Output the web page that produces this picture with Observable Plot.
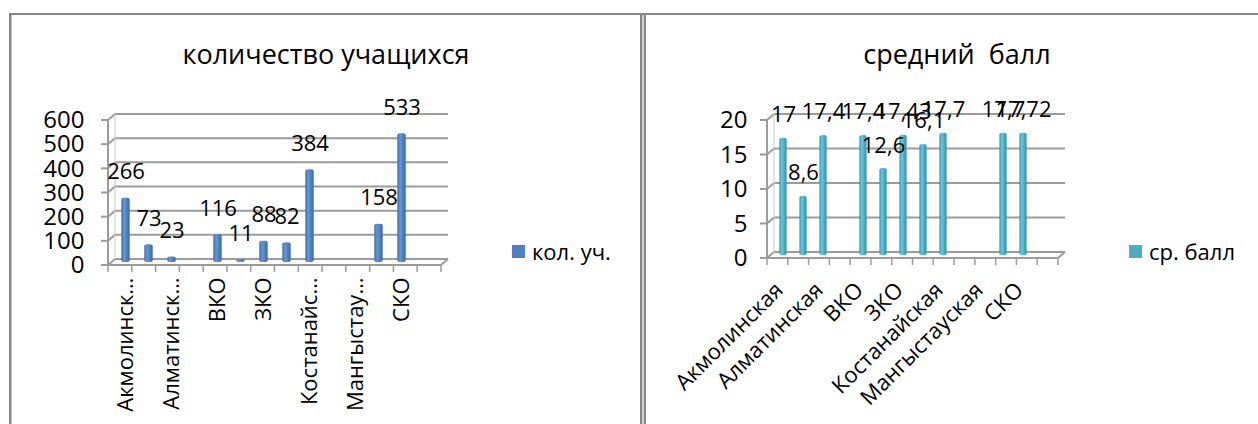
<!DOCTYPE html>
<html><head><meta charset="utf-8">
<script src="https://cdn.jsdelivr.net/npm/d3@7"></script>
<script src="https://cdn.jsdelivr.net/npm/@observablehq/plot@0.6"></script>
<style>
body{margin:0;background:#fff;font-family:"Open Sans","Noto Sans",sans-serif;}
#wrap{position:relative;width:1258px;height:424px;overflow:hidden;background:#fff;}
.abs{position:absolute;}
.title{position:absolute;font-size:27px;color:#000;white-space:pre;transform:translateX(-50%);line-height:1;}
.leg{position:absolute;font-size:22px;color:#000;white-space:pre;display:flex;align-items:center;line-height:1;}
.leg span.sw{display:inline-block;width:13px;height:13px;margin-right:7px;}
svg{position:absolute;top:0;}
</style></head><body><div id="wrap"></div>
<script>
const regions = ["Акмолинская","Актюбинская","Алматинская","Атырауская","ВКО","Жамбылская","ЗКО","Карагандинская","Костанайская","Кызылординская","Мангыстауская","Павлодарская","СКО","ЮКО"];
const students = [266,73,23,null,116,11,88,82,384,null,null,158,533,null];
const scores = [17,8.6,17.4,null,17.4,12.6,17.43,16.1,17.7,null,null,17.7,17.72,null];
const studentTicks = [0,100,200,300,400,500,600];
const scoreTicks = [0,5,10,15,20];
const labelRegions = regions.filter((d,i) => i % 2 === 0);
const titles = ["количество учащихся", "средний  балл"];
const legendNames = ["кол. уч.", "ср. балл"];
const colors = ["#4F81BD", "#4BACC6"];

const wrap = document.getElementById("wrap");

function deco(ticks, n, ddx, ddy) {
  return (index, scales, values, dims) => {
    const {y} = scales;
    const x0 = dims.marginLeft, x1 = dims.width - dims.marginRight;
    const g = d3.create("svg:g").attr("fill", "none").attr("stroke", "#9b9b9b").attr("stroke-width", 2);
    const yb = y(ticks[0]), yt = y(ticks[ticks.length - 1]);
    for (const t of ticks) {
      const yy = y(t);
      g.append("line").attr("x1", x0 - 7).attr("x2", x0).attr("y1", yy).attr("y2", yy);
      g.append("line").attr("x1", x0).attr("x2", x0 + ddx).attr("y1", yy).attr("y2", yy - ddy);
      g.append("line").attr("x1", x0 + ddx).attr("x2", x1 + ddx).attr("y1", yy - ddy).attr("y2", yy - ddy);
    }
    g.append("line").attr("x1", x0).attr("x2", x0).attr("y1", yb).attr("y2", yt);
    g.append("line").attr("x1", x0 + ddx).attr("x2", x0 + ddx).attr("y1", yb - ddy).attr("y2", yt - ddy).attr("stroke", "#c8c8c8").attr("stroke-width", 1);
    g.append("line").attr("x1", x0).attr("x2", x1).attr("y1", yb).attr("y2", yb);
    g.append("line").attr("x1", x1).attr("x2", x1 + ddx).attr("y1", yb).attr("y2", yb - ddy);
    for (let i = 0; i <= n; i++) {
      const xx = x0 + i * (x1 - x0) / n;
      g.append("line").attr("x1", xx).attr("x2", xx).attr("y1", yb).attr("y2", yb + 7).attr("stroke-width", 1.5);
    }
    return g.node();
  };
}

function chart(cfg) {
  const data = regions.map((r, i) => ({region: r, value: cfg.values[i]})).filter(d => d.value != null);
  const svg = Plot.plot({
    width: cfg.width, height: 424,
    marginLeft: cfg.ml, marginRight: cfg.width - cfg.xr, marginTop: cfg.yt, marginBottom: 424 - cfg.yb,
    style: {fontFamily: '"Open Sans","Noto Sans",sans-serif', color: "#000", background: "transparent", overflow: "visible"},
    x: {domain: regions, padding: 0, label: null},
    y: {domain: [cfg.ticks[0], cfg.ticks[cfg.ticks.length - 1]], label: null},
    marks: [
      deco(cfg.ticks, regions.length, 7, 6),
      Plot.axisY(cfg.ticks, {tickSize: 0, tickPadding: cfg.yPad, fontSize: 24, anchor: "left", label: null, tickFormat: d => String(d)}),
      Plot.axisX(labelRegions, {tickSize: 0, tickPadding: cfg.tickPad, fontSize: cfg.xFont, tickRotate: cfg.rotate, label: null, dx: cfg.xdx,
        tickFormat: cfg.trunc ? (d => d.length > 10 ? d.slice(0, 9) + "…" : d) : (d => d)}),
      Plot.barY(data, {x: "region", y: "value", fill: `url(#${cfg.grad})`, insetLeft: cfg.inset, insetRight: cfg.inset, dy: -3, rx: 3, ry: 2}),
      Plot.text(data, {x: "region", y: "value", text: d => String(d.value).replace(".", ","), dy: cfg.labelDy, fontSize: 22, lineAnchor: "middle", fill: "#000"})
    ]
  });
  const defs = d3.select(svg).insert("defs", ":first-child");
  const lg = defs.append("linearGradient").attr("id", cfg.grad).attr("x1", "0").attr("x2", "1").attr("y1", "0").attr("y2", "0");
  const c = d3.color(cfg.color);
  lg.append("stop").attr("offset", "0%").attr("stop-color", c.darker(0.5));
  lg.append("stop").attr("offset", "35%").attr("stop-color", c.brighter(0.5));
  lg.append("stop").attr("offset", "65%").attr("stop-color", c);
  lg.append("stop").attr("offset", "100%").attr("stop-color", c.darker(0.6));
  svg.style.left = cfg.left + "px";
  wrap.appendChild(svg);
}

chart({left: 0, width: 640, ml: 108, xr: 441, yt: 120, yb: 265, ticks: studentTicks, values: students, yPad: 24,
  grad: "gradL", color: colors[0], inset: 7.3, labelDy: -29, rotate: -90, tickPad: 12, trunc: true, xFont: 22, xdx: 0});
chart({left: 640, width: 618, ml: 127, xr: 418, yt: 120, yb: 258, ticks: scoreTicks, values: scores, yPad: 20,
  grad: "gradR", color: colors[1], inset: 6.4, labelDy: -26, rotate: -45, tickPad: 28, trunc: false, xFont: 22, xdx: -4});

function box(css) { const d = document.createElement("div"); d.className = "abs"; Object.assign(d.style, css); wrap.appendChild(d); }
box({left: "9px", top: "13px", width: "1249px", height: "2px", background: "#888"});
box({left: "9px", top: "13px", width: "2px", height: "420px", background: "#888"});
box({left: "11px", top: "15px", width: "1px", height: "420px", background: "#c4c4c4"});
box({left: "640px", top: "13px", width: "2px", height: "420px", background: "#888"});
box({left: "642px", top: "15px", width: "2px", height: "420px", background: "#cfcfcf"});
box({left: "644px", top: "15px", width: "2px", height: "420px", background: "#888"});

[[326, titles[0]], [957, titles[1]]].forEach(([cx, t]) => {
  const d = document.createElement("div"); d.className = "title"; d.textContent = t;
  d.style.left = cx + "px"; d.style.top = "40px"; wrap.appendChild(d);
});
[[512, 0], [1129, 1]].forEach(([lx, i]) => {
  const d = document.createElement("div"); d.className = "leg";
  d.style.left = lx + "px"; d.style.top = "240px";
  const sw = document.createElement("span"); sw.className = "sw"; sw.style.background = colors[i];
  d.appendChild(sw); d.appendChild(document.createTextNode(legendNames[i]));
  wrap.appendChild(d);
});
</script></body></html>
